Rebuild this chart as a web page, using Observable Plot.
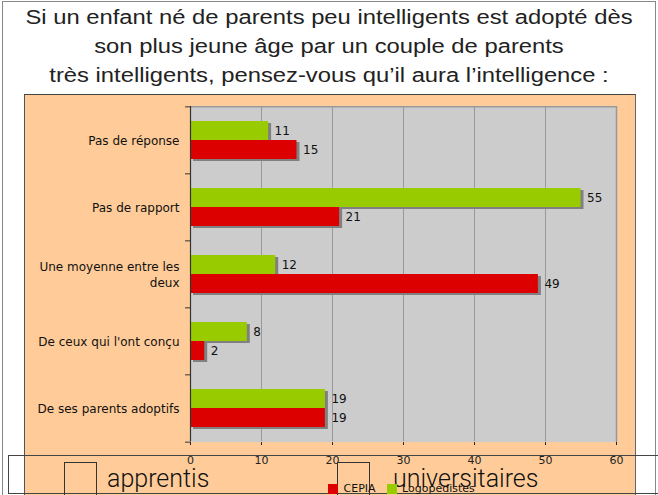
<!DOCTYPE html>
<html>
<head>
<meta charset="utf-8">
<script src="https://cdn.jsdelivr.net/npm/d3@7"></script>
<script src="https://cdn.jsdelivr.net/npm/@observablehq/plot@0.6"></script>
<style>
  html, body { margin: 0; padding: 0; background: #fff; }
  #page { position: relative; width: 658px; height: 495px; overflow: hidden; background: #fff; }
  #outer { position: absolute; left: 2px; top: 1px; width: 654px; height: 600px; border: 1px solid #888; box-sizing: border-box; }
  #title { position: absolute; left: 0; top: 3px; width: 658px; text-align: center;
           font-family: "Liberation Sans", Arial, sans-serif; font-weight: 400; font-size: 19.5px; line-height: 29px; color: #222;
           transform: scaleX(1.22); transform-origin: 329px 0; }
  #panel { position: absolute; left: 24px; top: 94px; width: 612px; height: 420px; background: #FFCC99;
           border: 1px solid #666; border-top-color: #444; border-left-color: #555; box-sizing: border-box; }
  #chart { position: absolute; left: 25px; top: 95px; }
  #box { position: absolute; left: 8px; top: 455px; width: 700px; height: 39px; border: 1px solid #444; box-sizing: border-box; }
  .chk { position: absolute; top: 462px; width: 33px; height: 50px; border: 1px solid #333; box-sizing: border-box; }
  .big { position: absolute; font-family: Roboto, "Liberation Sans", sans-serif; font-weight: 300; font-size: 25px; color: #111; line-height: 1; }
  #legend { position: absolute; left: 328px; top: 472px; }
</style>
</head>
<body>
<div id="page">
  <div id="outer"></div>
  <div id="title">Si un enfant né de parents peu intelligents est adopté dès<br>son plus jeune âge par un couple de parents<br>très intelligents, pensez-vous qu’il aura l’intelligence :</div>
  <div id="panel"></div>
  <div id="chart"></div>
  <div id="box"></div>
  <div class="chk" style="left:64px"></div>
  <div class="chk" style="left:337px"></div>
  <div class="big" style="left:107px; top:466px">apprentis</div>
  <div class="big" style="left:393px; top:466px">universitaires</div>
  <div id="legend"></div>
</div>
<script>
const categories = ["Pas de réponse", "Pas de rapport", "Une moyenne entre les deux", "De ceux qui l'ont conçu", "De ses parents adoptifs"];
const categoryLabels = ["Pas de réponse", "Pas de rapport", "Une moyenne entre les\ndeux", "De ceux qui l'ont conçu", "De ses parents adoptifs"];
const seriesNames = ["Logopédistes", "CEPIA"];
const logopedistes = [11, 55, 12, 8, 19];
const cepia = [15, 21, 49, 2, 19];
const xTicks = [0, 10, 20, 30, 40, 50, 60];
const gridTicks = [10, 20, 30, 40, 50];
const seriesColors = ["#99CC00", "#DD0000"];

const data = [];
categories.forEach((c, i) => {
  data.push({cat: c, series: "Logopédistes", value: logopedistes[i]});
  data.push({cat: c, series: "CEPIA", value: cepia[i]});
});

const W = 610, H = 400;
const mL = 165, mR = 19, mT = 9, mB = 53;
const facetH = (H - mT - mB) / categories.length;
const padOuter = 0.75;
const step = facetH / (2 + 2 * padOuter);
const topOffset = padOuter * step + step / 2;

const chart = Plot.plot({
  width: W,
  height: H,
  marginLeft: mL,
  marginRight: mR,
  marginTop: mT,
  marginBottom: mB,
  style: {background: "transparent", fontFamily: "DejaVu Sans, Verdana, sans-serif", fontSize: "11px", color: "#222"},
  x: {domain: [0, 60], ticks: xTicks, tickSize: 4, tickPadding: 11, line: true, label: null},
  y: {domain: seriesNames, axis: null, paddingInner: 0, paddingOuter: padOuter},
  fy: {domain: categories, axis: null, padding: 0},
  color: {domain: seriesNames, range: seriesColors},
  marks: [
    Plot.frame({fill: "#CCCCCC", insetTop: -0.6, insetBottom: -0.6}),
    Plot.ruleX(gridTicks, {stroke: "#999999", strokeWidth: 1}),
    Plot.ruleX([60], {stroke: "#999999", strokeWidth: 1.5}),
    Plot.ruleY([categories[0]], {fy: d => d, y: () => "Logopédistes", dy: -topOffset, x1: 0, x2: 60, stroke: "#999999", strokeWidth: 1.5}),
    Plot.barX(data, {fy: "cat", y: "series", x: "value", fill: "#808080", dx: 3, dy: 2}),
    Plot.barX(data, {fy: "cat", y: "series", x: "value", fill: "series"}),
    Plot.text(data, {fy: "cat", y: "series", x: "value", text: d => String(d.value), textAnchor: "start", dx: 6, fontSize: 12, fill: "#111"}),
    Plot.ruleX([0], {stroke: "#333", strokeWidth: 1.2}),
    Plot.ruleY(categories, {fy: d => d, y: () => "Logopédistes", dy: -topOffset, x1: -0.7, x2: 0, stroke: "#333"}),
    Plot.ruleY([categories[categories.length - 1]], {fy: d => d, y: () => "CEPIA", dy: topOffset, x1: -0.7, x2: 0, stroke: "#333"}),
    Plot.text(categories, {fy: d => d, text: (d, i) => categoryLabels[i], frameAnchor: "left", textAnchor: "end", dx: -11, fontSize: 12, lineHeight: 1.3, fill: "#111"})
  ]
});
document.getElementById("chart").appendChild(chart);

const legend = Plot.legend({
  color: {domain: ["CEPIA", "Logopédistes"], range: ["#DD0000", "#99CC00"]},
  legend: "swatches",
  swatchSize: 10,
  style: {fontFamily: "DejaVu Sans, Verdana, sans-serif", fontSize: "11px", color: "#111", background: "transparent", margin: 0}
});
document.getElementById("legend").appendChild(legend);
</script>
</body>
</html>
